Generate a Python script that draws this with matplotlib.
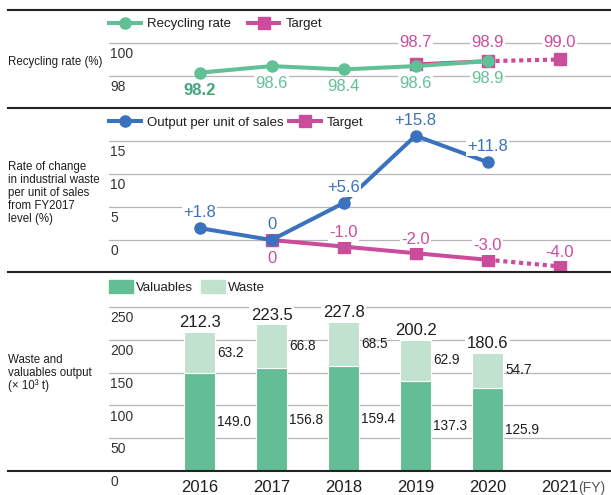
import numpy as np
import matplotlib
matplotlib.use("Agg")
import matplotlib.pyplot as plt
from matplotlib.lines import Line2D
from matplotlib.patches import Patch

plt.rcParams['font.family'] = ['Liberation Sans', 'DejaVu Sans']

years = ['2016', '2017', '2018', '2019', '2020', '2021']

# recycling rate (%)
recycling_rate = [98.2, 98.6, 98.4, 98.6, 98.9]
recycling_target = [None, None, None, 98.7, 98.9, 99.0]

# rate of change in industrial waste per unit of sales from FY2017 (%)
output_change = [1.8, 0, 5.6, 15.8, 11.8]
output_labels = ['+1.8', '0', '+5.6', '+15.8', '+11.8']
change_target = [None, 0, -1.0, -2.0, -3.0, -4.0]
change_target_labels = ['', '0', '-1.0', '-2.0', '-3.0', '-4.0']

# waste and valuables output (x 10^3 t)
valuables = [149.0, 156.8, 159.4, 137.3, 125.9]
waste = [63.2, 66.8, 68.5, 62.9, 54.7]
totals = [212.3, 223.5, 227.8, 200.2, 180.6]

GREEN = '#62c096'
GREEN_DARK = '#44a67c'
MAGENTA = '#cc4c9c'
BLUE = '#3a72bf'
VAL = '#63bd95'
WASTE = '#c0e2cf'
GRID = '#b5b5b5'
TXT = '#1e1e1e'

W, H = 611, 495
LEFT = 109
fig = plt.figure(figsize=(W / 100, H / 100), dpi=100)


def rect(top, bottom):
    return [LEFT / W, 1 - bottom / H, (W - LEFT) / W, (bottom - top) / H]


def base_axes(r, ylim, yticks):
    ax = fig.add_axes(r)
    ax.set_xlim(-1.257, 5.715)
    ax.set_ylim(*ylim)
    ax.set_yticks(yticks)
    ax.grid(axis='y', color=GRID, lw=0.9)
    ax.set_axisbelow(True)
    for s in ax.spines.values():
        s.set_visible(False)
    ax.tick_params(axis='both', length=0, labelleft=False, labelbottom=False)
    for t in yticks:
        ax.annotate(str(t), xy=(0, t), xycoords=('axes fraction', 'data'),
                    xytext=(1, -8), textcoords='offset points',
                    ha='left', va='center', fontsize=10, color='#333333')
    return ax


def split_target(ax, vals, color):
    v = np.array([np.nan if x is None else x for x in vals], dtype=float)
    idx = np.arange(len(v))
    solid = v.copy()
    solid[-1] = np.nan
    dotted = np.full_like(v, np.nan)
    dotted[-2:] = v[-2:]
    ax.plot(idx, solid, color=color, lw=2.9, zorder=3)
    ax.plot(idx, dotted, color=color, lw=3, ls=(0, (1, 0.9)), zorder=3)
    ax.plot(idx, v, color=color, lw=0, marker='s', ms=8, zorder=3)
    return idx, v


box = dict(facecolor='white', edgecolor='none', pad=1)
leg_kw = dict(loc='center left', ncol=2, frameon=False, fontsize=9.5,
              borderpad=0, borderaxespad=0, labelcolor=TXT)

# ---- panel 1: recycling rate
ax1 = base_axes(rect(10, 108), (96.06, 102.0), [98, 100])
idx_t, tv = split_target(ax1, recycling_target, MAGENTA)
ax1.plot(range(len(recycling_rate)), recycling_rate, color=GREEN, lw=2.9,
         marker='o', ms=8, zorder=4)
for i, v in enumerate(recycling_rate):
    bold = i == 0
    ax1.annotate(f'{v:.1f}', xy=(i, v), xytext=(0, -12.5), textcoords='offset points',
                 ha='center', va='center', fontsize=12,
                 color=GREEN_DARK if bold else GREEN,
                 fontweight='bold' if bold else 'normal', bbox=box, zorder=5)
for i, v in zip(idx_t, tv):
    if not np.isnan(v):
        ax1.text(i, 100, f'{v:.1f}', ha='center', va='center', fontsize=12,
                 color=MAGENTA, bbox=box, zorder=5)
ax1.legend(handles=[Line2D([], [], color=GREEN, lw=2.9, marker='o', ms=8),
                    Line2D([], [], color=MAGENTA, lw=2.9, marker='s', ms=8)],
           labels=['Recycling rate', 'Target'], bbox_to_anchor=(0, 0.857),
           handlelength=2.4, handletextpad=0.45, columnspacing=1.3, **leg_kw)

# ---- panel 2: rate of change
ax2 = base_axes(rect(108, 272), (-4.85, 20.0), [0, 5, 10, 15])
idx_t, tv = split_target(ax2, change_target, MAGENTA)
ax2.plot(range(len(output_change)), output_change, color=BLUE, lw=2.9,
         marker='o', ms=8, zorder=4)
for i, (v, lab) in enumerate(zip(output_change, output_labels)):
    ax2.annotate(lab, xy=(i, v), xytext=(0, 11), textcoords='offset points',
                 ha='center', va='center', fontsize=12, color=BLUE, bbox=box, zorder=5)
for i, v in zip(idx_t, tv):
    if np.isnan(v):
        continue
    dy = -13 if v == 0 else 10
    ax2.annotate(change_target_labels[i], xy=(i, v), xytext=(0, dy),
                 textcoords='offset points', ha='center', va='center',
                 fontsize=12, color=MAGENTA, bbox=box, zorder=5)
ax2.legend(handles=[Line2D([], [], color=BLUE, lw=2.9, marker='o', ms=8),
                    Line2D([], [], color=MAGENTA, lw=2.9, marker='s', ms=8)],
           labels=['Output per unit of sales', 'Target'], bbox_to_anchor=(0, 0.909),
           handlelength=2.4, handletextpad=0.45, columnspacing=0.45, **leg_kw)

# ---- panel 3: waste and valuables output
ax3 = base_axes(rect(272, 471), (0, 303.4), [0, 50, 100, 150, 200, 250])
x = np.arange(len(valuables))
bw = 0.43
ax3.bar(x, valuables, bw, color=VAL, edgecolor='white', lw=0.8, zorder=2)
ax3.bar(x, waste, bw, bottom=valuables, color=WASTE, edgecolor='white', lw=0.8, zorder=2)
for i in x:
    ax3.annotate(f'{totals[i]:.1f}', xy=(i, valuables[i] + waste[i]), xytext=(0, 1),
                 textcoords='offset points', ha='center', va='bottom',
                 fontsize=12, color=TXT, bbox=box, zorder=5)
    ax3.annotate(f'{waste[i]:.1f}', xy=(i + bw / 2, valuables[i] + waste[i] / 2),
                 xytext=(1.5, 0), textcoords='offset points', ha='left', va='center',
                 fontsize=9.8, color=TXT)
    ax3.annotate(f'{valuables[i]:.1f}', xy=(i + bw / 2, valuables[i] / 2),
                 xytext=(1.5, 0), textcoords='offset points', ha='left', va='center',
                 fontsize=9.8, color=TXT)
ax3.set_xticks(range(len(years)), years)
ax3.tick_params(axis='x', labelbottom=True, labelsize=12, pad=6.5, labelcolor=TXT)
ax3.legend(handles=[Patch(color=VAL), Patch(color=WASTE)],
           labels=['Valuables', 'Waste'], bbox_to_anchor=(0, 0.925),
           handlelength=1.8, handleheight=1.2, handletextpad=0.25,
           columnspacing=0.6, **leg_kw)

# ---- rules and left titles
for y in (10, 108, 272, 471):
    fig.add_artist(Line2D([8 / W, 1], [1 - y / H] * 2, transform=fig.transFigure,
                          color='#222222', lw=1.5))

fig.text(8 / W, 1 - 62 / H, 'Recycling rate (%)', ha='left', va='center',
         fontsize=8.3, color=TXT)
fig.text(8 / W, 1 - 193 / H,
         'Rate of change\nin industrial waste\nper unit of sales\nfrom FY2017\nlevel (%)',
         ha='left', va='center', fontsize=8.3, color=TXT, linespacing=1.1)
fig.text(8 / W, 1 - 373 / H, 'Waste and\nvaluables output\n(× 10³ t)',
         ha='left', va='center', fontsize=8.3, color=TXT, linespacing=1.1)

# "(FY)" right after the last year label
fig.canvas.draw()
last = ax3.get_xticklabels()[-1].get_window_extent()
fig.text(last.x1 / W, (last.y0 + last.y1) / 2 / H, '(FY)', ha='left',
         va='center', fontsize=10, color='#555555')

fig.savefig('out.png', dpi=100)
